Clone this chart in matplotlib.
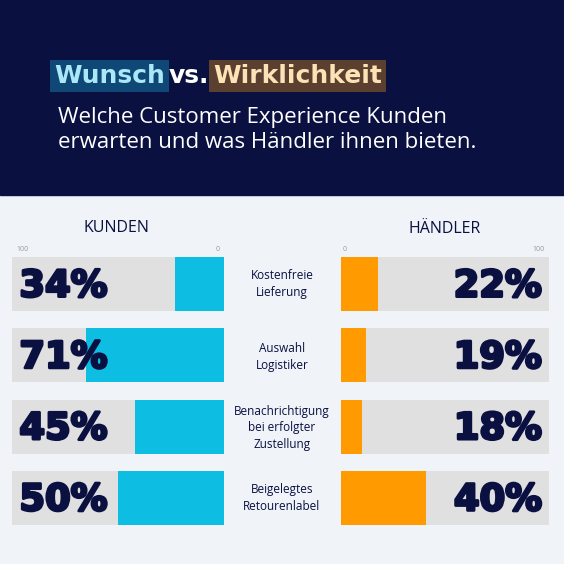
import matplotlib
matplotlib.use("Agg")
import matplotlib.pyplot as plt
from matplotlib.patches import Rectangle
import matplotlib.patheffects as pe

categories = ["Kostenfreie\nLieferung", "Auswahl\nLogistiker", "Benachrichtigung\nbei erfolgter\nZustellung", "Beigelegtes\nRetourenlabel"]
kunden_labels = [34, 71, 45, 50]
haendler_labels = [22, 19, 18, 40]
# bar lengths as drawn in the reference (scale 0-100)
kunden_bars = [23, 65, 42, 50]
haendler_bars = [18, 12, 10, 41]

W = H = 564
fig = plt.figure(figsize=(5.64, 5.64), dpi=100)
fig.patch.set_facecolor("#f0f4f9")
bg = fig.add_axes([0, 0, 1, 1])
bg.set_xlim(0, W); bg.set_ylim(H, 0); bg.axis("off")
bg.add_patch(Rectangle((0, 0), W, 195, color="#0a1040", zorder=0))

FB = ["Open Sans", "DejaVu Sans"]
FH = ["DejaVu Sans"]
bg.text(54, 76, "Wunsch", color="#a9e8f7", fontsize=18, fontweight="bold", family=FH, va="center",
        bbox=dict(boxstyle="square,pad=0.15", fc="#0f4877", ec="none"))
bg.text(169, 76, "vs.", color="white", fontsize=18, fontweight="bold", family=FH, va="center")
bg.text(213, 76, "Wirklichkeit", color="#fde2b6", fontsize=18, fontweight="bold", family=FH, va="center",
        bbox=dict(boxstyle="square,pad=0.15", fc="#5b4030", ec="none"))
bg.text(58, 130, "Welche Customer Experience Kunden\nerwarten und was Händler ihnen bieten.",
        color="white", fontsize=16, family=FB, va="center", linespacing=1.2)
bg.text(116, 228, "KUNDEN", color="#0a1040", fontsize=11.5, family=FB, ha="center", va="center")
bg.text(445, 229, "HÄNDLER", color="#0a1040", fontsize=11.5, family=FB, ha="center", va="center")

row_h = 71
top, bottom = 257, 525
axL = fig.add_axes([12 / W, 1 - bottom / H, 212 / W, (bottom - top) / H])
axR = fig.add_axes([341 / W, 1 - bottom / H, 208 / W, (bottom - top) / H])
for ax, bars, labels, col, left in [(axL, kunden_bars, kunden_labels, "#0dbde2", True),
                                     (axR, haendler_bars, haendler_labels, "#ff9a00", False)]:
    ys = [i * row_h for i in range(len(bars))]
    ax.barh(ys, [100] * len(bars), height=54, color="#e0e0e0")
    ax.barh(ys, bars, height=54, color=col)
    ax.axis("off")
    ax.set_xlim((100, 0) if left else (0, 100))
    ax.set_ylim(ys[-1] + 27, ys[0] - 27)
    for y, lab in zip(ys, labels):
        ax.text(96.5, y + 2, f"{lab}%", ha="left" if left else "right", va="center",
                fontsize=26.5, fontweight="heavy", family=FH, color="#0a1040",
                path_effects=[pe.withStroke(linewidth=2.0, foreground="#0a1040")])
    ax.text(98 if left else 1, ys[0] - 33, "100" if left else "0", fontsize=5, color="#999999", ha="left", family=FB)
    ax.text(2 if left else 98, ys[0] - 33, "0" if left else "100", fontsize=5, color="#999999", ha="right", family=FB)
    for t in ax.texts:
        t.set_clip_on(False)

centers = [284, 357, 428, 498]
for c, cat in zip(centers, categories):
    bg.text(282, c, cat, ha="center", va="center", fontsize=8.5, color="#0a1040", family=FB, linespacing=1.35)

fig.savefig("out.png", dpi=100, facecolor=fig.get_facecolor())
